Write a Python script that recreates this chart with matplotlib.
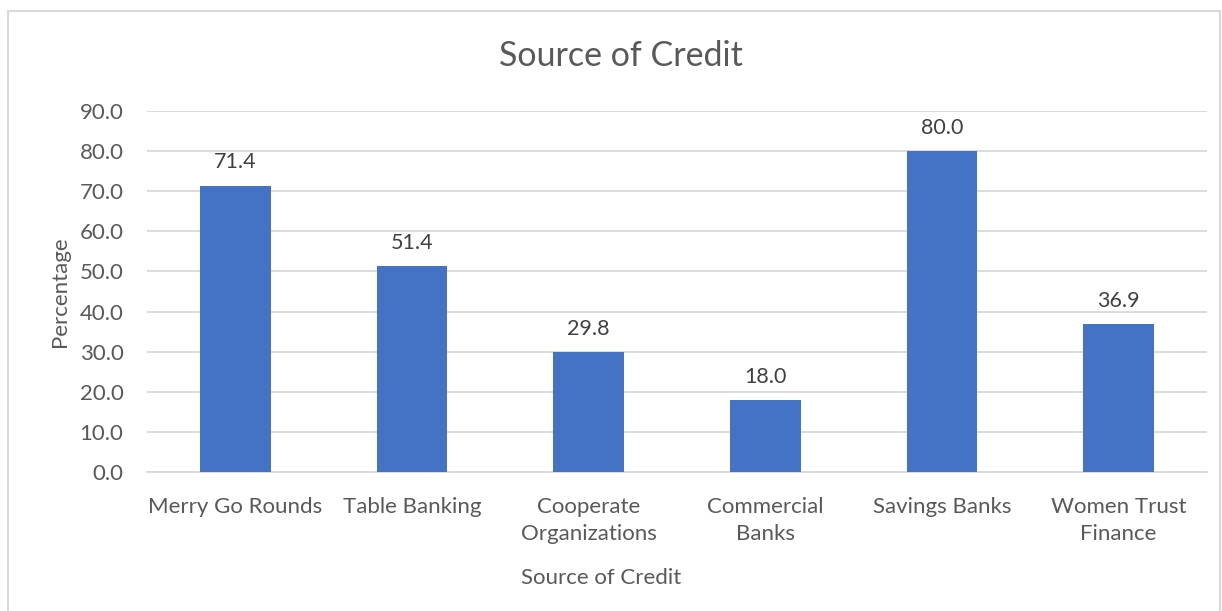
import matplotlib
matplotlib.use("Agg")
import matplotlib.pyplot as plt
from matplotlib.patches import Rectangle

# data
categories = ["Merry Go Rounds", "Table Banking", "Cooperate\nOrganizations",
              "Commercial\nBanks", "Savings Banks", "Women Trust\nFinance"]
values = [71.4, 51.4, 29.8, 18.0, 80.0, 36.9]
y_ticks = [0, 10, 20, 30, 40, 50, 60, 70, 80, 90]

text_color = "#595959"
bar_color = "#4472C4"
grid_color = "#D9D9D9"

plt.rcParams['font.family'] = ['Lato', 'DejaVu Sans']

fig = plt.figure(figsize=(12.22, 6.11), dpi=100)
ax = fig.add_axes([0.1203, 0.2275, 0.8674, 0.5908])

x = range(len(categories))
ax.bar(x, values, width=0.4, color=bar_color, zorder=3)
for xi, v in zip(x, values):
    ax.text(xi, v + 3.3, f"{v:.1f}", ha="center", va="bottom",
            fontsize=15.5, color="#404040")

ax.set_xlim(-0.5, len(categories) - 0.5)
ax.set_ylim(0, 90)
ax.set_yticks(y_ticks)
ax.set_yticklabels([f"{t:.1f}" for t in y_ticks])
ax.set_xticks(list(x))
ax.set_xticklabels(categories, linespacing=1.45)
ax.yaxis.grid(True, color=grid_color, linewidth=1.3, zorder=0)
ax.tick_params(axis="both", length=0, labelsize=16, colors=text_color)
ax.tick_params(axis="y", pad=17)
ax.tick_params(axis="x", pad=18)
for s in ["top", "right", "left"]:
    ax.spines[s].set_visible(False)
ax.spines["bottom"].set_color(grid_color)
ax.spines["bottom"].set_linewidth(1.3)

fig.text(60 / 1222, 1 - 292 / 611, "Percentage", ha="center", va="center",
         rotation=90, fontsize=16, color=text_color)
fig.text(601 / 1222, 1 - 578 / 611, "Source of Credit", ha="center", va="center",
         fontsize=16, color=text_color)
fig.text(621 / 1222, 1 - 56 / 611, "Source of Credit", ha="center", va="center",
         fontsize=24.5, color=text_color)

# chart border
fig.patches.append(Rectangle((8 / 1222, -0.01), 1212 / 1222, 1 - 11 / 611 + 0.01,
                             transform=fig.transFigure, fill=False,
                             edgecolor="#D9D9D9", linewidth=1.5))

fig.savefig("out.png", dpi=100)
